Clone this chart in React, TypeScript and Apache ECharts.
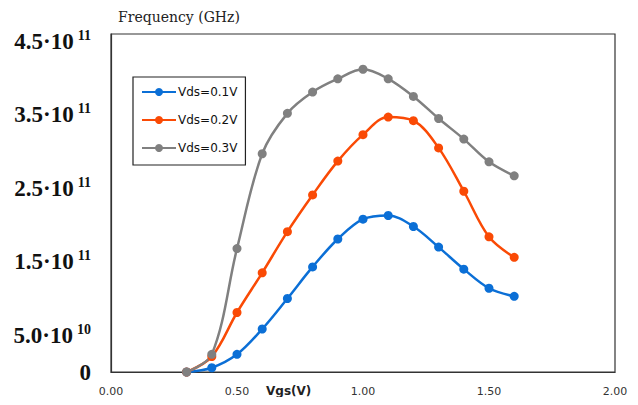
import React, { useEffect, useRef } from "react";
import * as echarts from "echarts";

const vgs = [0.3, 0.4, 0.5, 0.6, 0.7, 0.8, 0.9, 1.0, 1.1, 1.2, 1.3, 1.4, 1.5, 1.6];
const vds01 = [0, 0.058e11, 0.24e11, 0.585e11, 1.0e11, 1.43e11, 1.81e11, 2.08e11, 2.13e11, 1.98e11, 1.7e11, 1.4e11, 1.14e11, 1.03e11];
const vds02 = [0, 0.21e11, 0.81e11, 1.35e11, 1.91e11, 2.41e11, 2.87e11, 3.23e11, 3.47e11, 3.42e11, 3.05e11, 2.46e11, 1.84e11, 1.56e11];
const vds03 = [0, 0.24e11, 1.68e11, 2.97e11, 3.52e11, 3.81e11, 3.99e11, 4.12e11, 3.99e11, 3.75e11, 3.45e11, 3.17e11, 2.86e11, 2.67e11];
const seriesNames = ["Vds=0.1V", "Vds=0.2V", "Vds=0.3V"];
const colors = ["#0b6fd6", "#fa4a05", "#808080"];
const yTickLabels: Record<string, [string, string]> = {
  "0": ["0", ""],
  "50000000000": ["5.0·10", "10"],
  "150000000000": ["1.5·10", "11"],
  "250000000000": ["2.5·10", "11"],
  "350000000000": ["3.5·10", "11"],
  "450000000000": ["4.5·10", "11"],
};

export default function App() {
  const ref = useRef<HTMLDivElement>(null);
  useEffect(() => {
    if (!ref.current) return;
    const chart = echarts.init(ref.current, null, { renderer: "svg" });
    const mk = (name: string, data: number[], color: string) => ({
      name,
      type: "line",
      smooth: 0.35,
      data: vgs.map((x, i) => [x, data[i]]),
      symbol: "circle",
      symbolSize: 9,
      lineStyle: { color, width: 2.5 },
      itemStyle: { color },
      z: 2,
    });
    chart.setOption({
      animation: false,
      backgroundColor: "#fff",
      title: {
        text: "Frequency (GHz)",
        left: 113,
        top: 5,
        textStyle: { fontFamily: "DejaVu Serif", fontWeight: "normal", fontSize: 14, color: "#222" },
      },
      legend: {
        data: seriesNames,
        orient: "vertical",
        left: 133,
        top: 77,
        width: 113,
        padding: [9, 8, 11, 8],
        itemGap: 16,
        itemWidth: 34,
        itemHeight: 10,
        borderColor: "#222",
        borderWidth: 1.2,
        backgroundColor: "#fff",
        textStyle: { fontFamily: "DejaVu Sans", fontSize: 12, color: "#111", padding: [0, 0, 0, -3] },
      },
      grid: {
        left: 111,
        right: 23,
        top: 34,
        bottom: 33,
        show: true,
        borderColor: "#333",
        borderWidth: 1.2,
      },
      xAxis: {
        type: "value",
        min: 0,
        max: 2,
        interval: 0.5,
        axisLine: { show: true, lineStyle: { color: "#333", width: 1.2 } },
        axisTick: { show: false },
        splitLine: { show: false },
        axisLabel: {
          margin: 14,
          formatter: (v: number) => v.toFixed(2),
          fontFamily: "DejaVu Sans",
          fontSize: 11,
          color: "#333",
        },
      },
      yAxis: {
        type: "value",
        min: 0,
        max: 4.6e11,
        interval: 0.5e11,
        axisLine: { show: true, lineStyle: { color: "#333", width: 1.2 } },
        axisTick: { show: false },
        splitLine: { show: false },
        axisLabel: {
          margin: 20,
          showMaxLabel: false,
          formatter: (v: number) => {
            const t = yTickLabels[String(Math.round(v))];
            if (!t) return "";
            return t[1] ? `{a|${t[0]}}{b|${t[1]}}` : `{a|${t[0]}}`;
          },
          rich: {
            a: { fontFamily: "Liberation Serif", fontWeight: "bold", fontSize: 23, color: "#111" },
            b: { fontFamily: "Liberation Serif", fontWeight: "bold", fontSize: 14, color: "#111", padding: [0, 0, 12, 4] },
          },
        },
      },
      graphic: [
        {
          type: "text",
          left: 266,
          top: 385,
          style: { text: "Vgs(V)", fontFamily: "DejaVu Sans", fontWeight: "bold", fontSize: 12, fill: "#222" },
        },
      ],
      series: [mk(seriesNames[0], vds01, colors[0]), mk(seriesNames[1], vds02, colors[1]), mk(seriesNames[2], vds03, colors[2])],
    });
    return () => chart.dispose();
  }, []);
  return <div ref={ref} style={{ width: 638, height: 405, margin: -8 }} />;
}
